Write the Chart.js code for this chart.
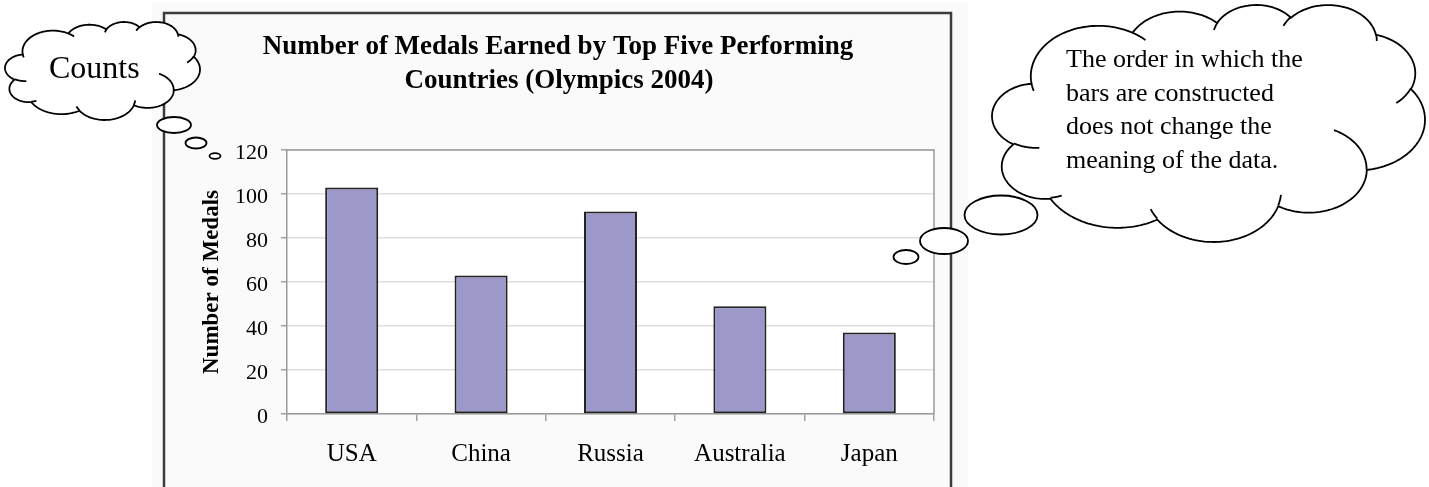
<!DOCTYPE html>
<html>
<head>
<meta charset="utf-8">
<title>Olympic medals 2004</title>
<script src="https://cdn.jsdelivr.net/npm/chart.js@4.4.1/dist/chart.umd.min.js"></script>
<style>
  html, body { margin: 0; padding: 0; background: #ffffff; }
  canvas { display: block; }
</style>
</head>
<body>
<canvas id="medalChart" width="1429" height="487"></canvas>
<script>
// ---- chart data ----
const countries = ['USA', 'China', 'Russia', 'Australia', 'Japan'];
const medals = [103, 63, 92, 49, 37];
const yTicks = [0, 20, 40, 60, 80, 100, 120];
const titleLines = ['Number of Medals Earned by Top Five Performing', 'Countries (Olympics 2004)'];
const yAxisTitle = 'Number of Medals';
const leftCloudLines = ['Counts'];
const rightCloudLines = ['The order in which the', 'bars are constructed', 'does not change the', 'meaning of the data.'];

const SERIF = "'Liberation Serif', 'Times New Roman', serif";

// ---- cloud callout outline (DrawingML "cloud" preset, 43200-unit path space) ----
const CLOUD_START = [3900, 14370];
const CLOUD_ARCS = [
  [6753, 9190, -11429249, 7426832],
  [5333, 7267, -8646143, 5396714],
  [4365, 5945, -8748475, 5983381],
  [4857, 6595, -7859164, 7034504],
  [5333, 7273, -4722533, 6541615],
  [6775, 9220, -2776035, 7816140],
  [5785, 7867, 37501, 6842000],
  [6752, 9215, 1347096, 6910353],
  [7720, 10543, 3974558, 4542661],
  [4360, 5918, -16496525, 8804134],
  [4345, 5945, -14809710, 9151131]
];
const CLOUD_CREASES = [
  [4693, 26177, 4345, 5945, 5204520, 1585770],
  [6928, 34899, 4360, 5918, 4416628, 686848],
  [16478, 39090, 6752, 9215, 8257449, 844866],
  [28827, 34751, 6752, 9215, 387196, 959901],
  [34129, 22954, 5785, 7867, -4217541, 4255042],
  [41798, 15354, 5333, 7273, 1819082, 1665090],
  [38324, 5426, 4857, 6595, -824660, 891534],
  [29078, 3952, 4857, 6595, -8950887, 1091722],
  [22141, 4720, 4365, 5945, -9809656, 1061181],
  [14000, 5192, 6753, 9190, -4002417, 739161],
  [4127, 15789, 6753, 9190, 9459261, 711490]
];

function ellipseParam(a, rx, ry) {
  let t = Math.atan2(rx * Math.sin(a), ry * Math.cos(a));
  t += 2 * Math.PI * Math.round((a - t) / (2 * Math.PI));
  return t;
}

// Follows one DrawingML arcTo from (x, y); returns sampled points.
function arcPoints(x, y, rx, ry, stAng, swAng) {
  const toRad = Math.PI / 180 / 60000;
  const a0 = stAng * toRad, a1 = (stAng + swAng) * toRad;
  const t0 = ellipseParam(a0, rx, ry), t1 = ellipseParam(a1, rx, ry);
  const cx = x - rx * Math.cos(t0), cy = y - ry * Math.sin(t0);
  const pts = [];
  const n = 48;
  for (let i = 1; i <= n; i++) {
    const t = t0 + (t1 - t0) * i / n;
    pts.push([cx + rx * Math.cos(t), cy + ry * Math.sin(t)]);
  }
  return pts;
}

function cloudOutline() {
  let [x, y] = CLOUD_START;
  const pts = [[x, y]];
  for (const [rx, ry, st, sw] of CLOUD_ARCS) {
    const seg = arcPoints(x, y, rx, ry, st, sw);
    pts.push(...seg);
    [x, y] = seg[seg.length - 1];
  }
  return pts;
}

function drawCloud(ctx, box) {
  const outline = cloudOutline();
  let minX = Infinity, maxX = -Infinity, minY = Infinity, maxY = -Infinity;
  for (const [x, y] of outline) {
    minX = Math.min(minX, x); maxX = Math.max(maxX, x);
    minY = Math.min(minY, y); maxY = Math.max(maxY, y);
  }
  const sx = (box.right - box.left) / (maxX - minX);
  const sy = (box.bottom - box.top) / (maxY - minY);
  const map = ([x, y]) => [box.left + (x - minX) * sx, box.top + (y - minY) * sy];

  ctx.save();
  ctx.beginPath();
  outline.map(map).forEach(([x, y], i) => i ? ctx.lineTo(x, y) : ctx.moveTo(x, y));
  ctx.closePath();
  ctx.fillStyle = '#ffffff';
  ctx.fill();
  ctx.lineWidth = 1.8;
  ctx.strokeStyle = '#000000';
  ctx.lineJoin = 'round';
  ctx.stroke();

  for (const [x0, y0, rx, ry, st, sw] of CLOUD_CREASES) {
    const seg = [[x0, y0], ...arcPoints(x0, y0, rx, ry, st, sw)].map(map);
    ctx.beginPath();
    seg.forEach(([x, y], i) => i ? ctx.lineTo(x, y) : ctx.moveTo(x, y));
    ctx.stroke();
  }
  ctx.restore();
}

function drawBubble(ctx, cx, cy, rx, ry) {
  ctx.save();
  ctx.beginPath();
  ctx.ellipse(cx, cy, rx, ry, 0, 0, Math.PI * 2);
  ctx.fillStyle = '#ffffff';
  ctx.fill();
  ctx.lineWidth = 1.8;
  ctx.strokeStyle = '#000000';
  ctx.stroke();
  ctx.restore();
}

const decorations = {
  id: 'decorations',
  beforeDraw(chart) {
    const { ctx, chartArea: a } = chart;
    ctx.save();
    ctx.fillStyle = '#ffffff';
    ctx.fillRect(0, 0, chart.width, chart.height);
    ctx.fillStyle = '#fafafa';
    ctx.fillRect(152, 3, 816, 484);
    ctx.fillStyle = '#ffffff';
    ctx.fillRect(a.left, a.top, a.right - a.left, a.bottom - a.top);
    ctx.restore();
  },
  afterDraw(chart) {
    const { ctx, chartArea: a } = chart;
    ctx.save();

    // plot frame: top and right edges
    ctx.strokeStyle = '#9a9a9a';
    ctx.lineWidth = 1.5;
    ctx.beginPath();
    ctx.moveTo(a.left, a.top);
    ctx.lineTo(a.right, a.top);
    ctx.lineTo(a.right, a.bottom);
    ctx.stroke();

    // outer chart border
    ctx.strokeStyle = '#3c3c3c';
    ctx.lineWidth = 2.5;
    ctx.beginPath();
    ctx.moveTo(164, 490);
    ctx.lineTo(164, 13);
    ctx.lineTo(951, 13);
    ctx.lineTo(951, 490);
    ctx.stroke();

    // chart title
    ctx.fillStyle = '#000000';
    ctx.textAlign = 'center';
    ctx.textBaseline = 'alphabetic';
    ctx.font = 'bold 27px ' + SERIF;
    ctx.fillText(titleLines[0], 558, 54);
    ctx.fillText(titleLines[1], 559, 88);
    ctx.restore();

    // thought clouds
    drawCloud(ctx, { left: 5, top: 22, right: 200, bottom: 120 });
    drawBubble(ctx, 174, 125, 17, 8);
    drawBubble(ctx, 196, 143, 10.5, 5.5);
    drawBubble(ctx, 215, 156, 5.5, 2.8);

    drawCloud(ctx, { left: 992, top: 5, right: 1425, bottom: 242 });
    drawBubble(ctx, 1001, 215, 36.5, 19.5);
    drawBubble(ctx, 944, 241, 24, 13);
    drawBubble(ctx, 906, 257, 12.5, 7);

    ctx.save();
    ctx.fillStyle = '#000000';
    ctx.textAlign = 'left';
    ctx.textBaseline = 'alphabetic';
    ctx.font = '32px ' + SERIF;
    leftCloudLines.forEach((t, i) => ctx.fillText(t, 49, 78 + i * 34));
    ctx.font = '26px ' + SERIF;
    rightCloudLines.forEach((t, i) => ctx.fillText(t, 1066, 67 + i * 33.5));
    ctx.restore();
  }
};

new Chart(document.getElementById('medalChart'), {
  type: 'bar',
  data: {
    labels: countries,
    datasets: [{
      label: yAxisTitle,
      data: medals,
      backgroundColor: '#9c99ca',
      borderColor: '#222222',
      borderWidth: 2,
      borderSkipped: false,
      categoryPercentage: 1,
      barPercentage: 0.41
    }]
  },
  options: {
    responsive: false,
    animation: false,
    devicePixelRatio: 1,
    events: [],
    layout: { padding: { left: 0, top: 150, right: 495, bottom: 0 } },
    plugins: {
      legend: { display: false },
      title: { display: false },
      tooltip: { enabled: false }
    },
    scales: {
      x: {
        offset: true,
        grid: {
          display: true,
          offset: true,
          drawOnChartArea: false,
          drawTicks: true,
          tickLength: 7,
          tickColor: '#a0a0a0',
          lineWidth: 1.5
        },
        border: { display: true, color: '#9a9a9a', width: 1.5 },
        ticks: {
          color: '#000000',
          padding: 18,
          maxRotation: 0,
          font: { family: SERIF, size: 25 }
        },
        afterFit(scale) { scale.height = 73; }
      },
      y: {
        min: yTicks[0],
        max: yTicks[yTicks.length - 1],
        grid: {
          color: '#dedede',
          lineWidth: 1.5,
          tickColor: '#a0a0a0',
          tickLength: 6
        },
        border: { display: true, color: '#9a9a9a', width: 1.5 },
        ticks: {
          stepSize: yTicks[1] - yTicks[0],
          color: '#000000',
          padding: 13,
          labelOffset: 3,
          font: { family: SERIF, size: 22 }
        },
        title: {
          display: true,
          text: yAxisTitle,
          color: '#000000',
          font: { family: SERIF, size: 23, weight: 'bold' },
          padding: { top: 198, bottom: 0 }
        },
        afterFit(scale) { scale.width = 287; }
      }
    }
  },
  plugins: [decorations]
});
</script>
</body>
</html>
